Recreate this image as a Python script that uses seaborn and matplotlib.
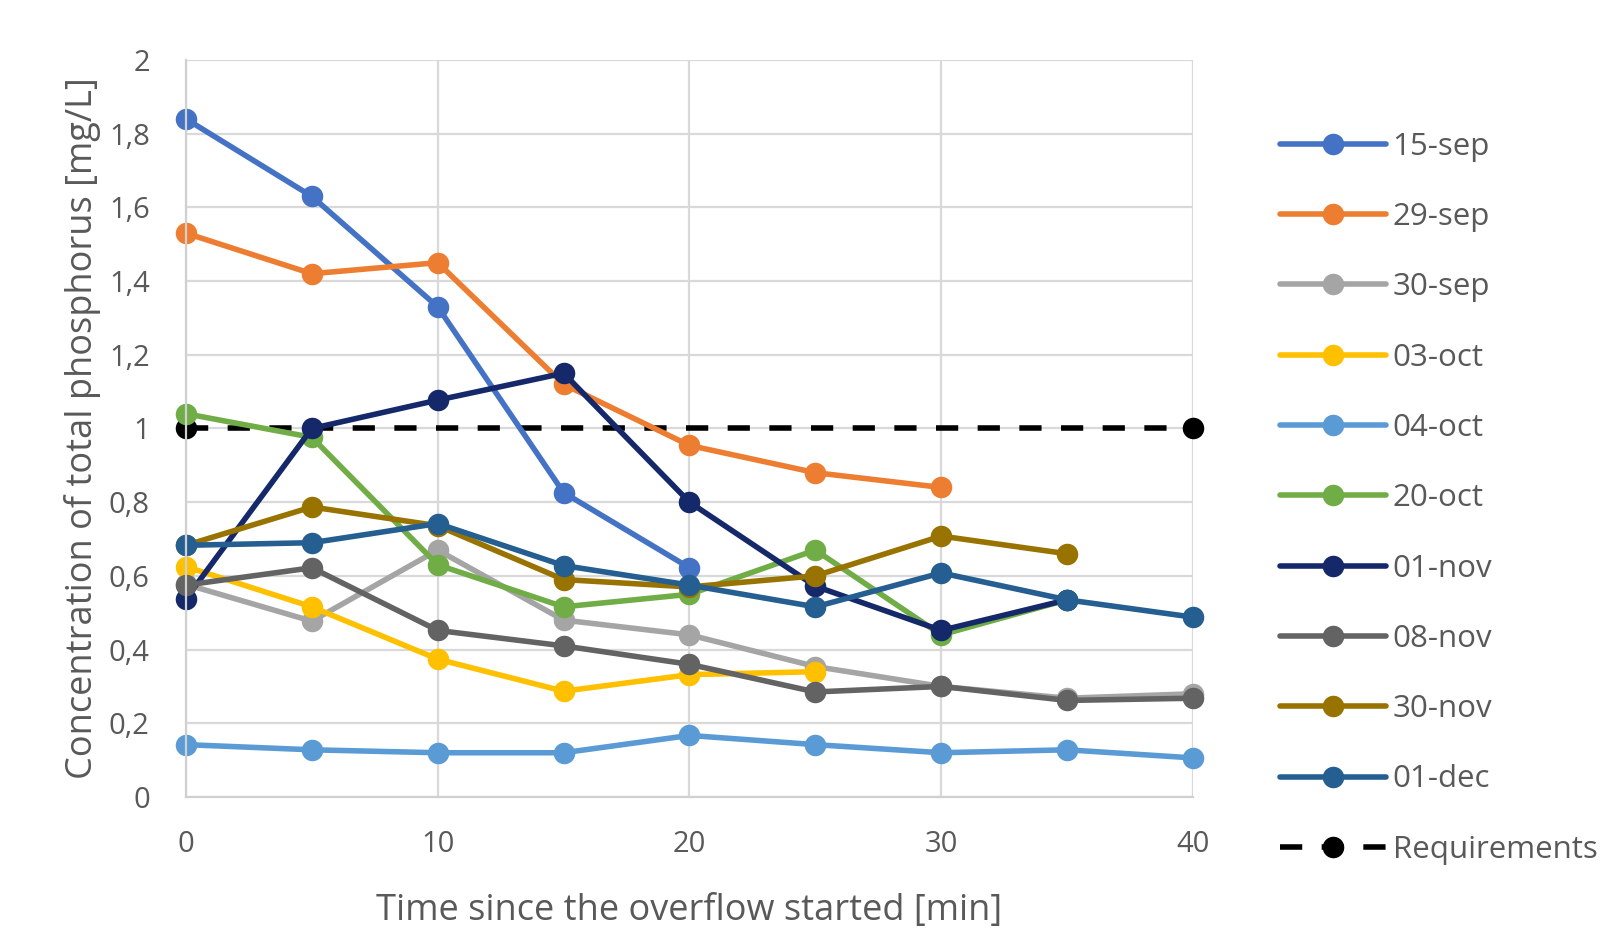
import matplotlib
matplotlib.use("Agg")
import matplotlib.pyplot as plt
import seaborn as sns
import pandas as pd
from matplotlib.ticker import FixedLocator, FixedFormatter
from matplotlib.lines import Line2D

# ---- data ----
time_min = [0, 5, 10, 15, 20, 25, 30, 35, 40]
sep15 = [1.84, 1.63, 1.33, 0.826, 0.622]
sep29 = [1.53, 1.42, 1.45, 1.12, 0.954, 0.88, 0.84]
sep30 = [0.577, 0.477, 0.67, 0.48, 0.44, 0.354, 0.30, 0.268, 0.28]
oct03 = [0.625, 0.516, 0.374, 0.287, 0.332, 0.34]
oct04 = [0.142, 0.128, 0.12, 0.12, 0.167, 0.142, 0.12, 0.128, 0.106]
oct20 = [1.04, 0.976, 0.63, 0.516, 0.55, 0.67, 0.44, 0.535]
nov01 = [0.538, 1.0, 1.077, 1.15, 0.80, 0.572, 0.452, 0.535]
nov08 = [0.575, 0.622, 0.452, 0.41, 0.36, 0.285, 0.30, 0.262, 0.268]
nov30 = [0.683, 0.787, 0.736, 0.59, 0.57, 0.60, 0.708, 0.66]
dec01 = [0.683, 0.69, 0.742, 0.628, 0.575, 0.516, 0.608, 0.535, 0.488]
req_time = [0, 40]
req_value = [1.0, 1.0]

series_names = ["15-sep", "29-sep", "30-sep", "03-oct", "04-oct",
                "20-oct", "01-nov", "08-nov", "30-nov", "01-dec"]
series_values = [sep15, sep29, sep30, oct03, oct04, oct20, nov01, nov08, nov30, dec01]
colors = ["#4472C4", "#ED7D31", "#A5A5A5", "#FFC000", "#5B9BD5",
          "#70AD47", "#14286A", "#636363", "#997300", "#255E91"]

y_ticks = [0, 0.2, 0.4, 0.6, 0.8, 1.0, 1.2, 1.4, 1.6, 1.8, 2.0]
y_tick_labels = ["0", "0,2", "0,4", "0,6", "0,8", "1", "1,2", "1,4", "1,6", "1,8", "2"]
x_ticks = [0, 10, 20, 30, 40]
x_tick_labels = ["0", "10", "20", "30", "40"]

rows = []
for name, vals in zip(series_names, series_values):
    for t, v in zip(time_min, vals):
        rows.append({"time": t, "value": v, "series": name})
df = pd.DataFrame(rows)
df_req = pd.DataFrame({"time": req_time, "value": req_value, "series": "Requirements"})

# ---- style ----
sns.set_style("white")
plt.rcParams["font.family"] = ["Open Sans", "DejaVu Sans"]

fig = plt.figure(figsize=(16.13, 9.33), dpi=100)
ax = fig.add_axes([0.1153, 0.1458, 0.7396 - 0.1153, 0.9357 - 0.1458])

lw = 4.0
ms = 15.5
dash = (4.0, 3.5)
sns.lineplot(data=df, x="time", y="value", hue="series", hue_order=series_names,
             palette=colors, marker="o", markersize=ms, markeredgewidth=0,
             linewidth=lw, ax=ax, clip_on=False, legend=False, sort=False)
sns.lineplot(data=df_req, x="time", y="value", color="black", marker="o",
             markersize=ms, markeredgewidth=0, linewidth=lw, ax=ax,
             clip_on=False, legend=False)
req_line = ax.get_lines()[-1]
req_line.set_dashes(dash)
req_line.set_zorder(1.5)

ax.set_xlim(0, 40)
ax.set_ylim(0, 2)
ax.xaxis.set_major_locator(FixedLocator(x_ticks))
ax.xaxis.set_major_formatter(FixedFormatter(x_tick_labels))
ax.yaxis.set_major_locator(FixedLocator(y_ticks))
ax.yaxis.set_major_formatter(FixedFormatter(y_tick_labels))
ax.grid(True, color="#D9D9D9", linewidth=1.6)
ax.set_axisbelow(True)
for s in ["top", "right"]:
    ax.spines[s].set_visible(False)
for s in ["left", "bottom"]:
    ax.spines[s].set_color("#D0D0D0")
    ax.spines[s].set_linewidth(1.6)
ax.tick_params(axis="both", length=0, labelsize=21, colors="#595959")
ax.tick_params(axis="y", pad=26)
ax.tick_params(axis="x", pad=24)
ax.set_xlabel("Time since the overflow started [min]", fontsize=26, color="#595959", labelpad=24)
ax.set_ylabel("Concentration of total phosphorus [mg/L]", fontsize=26, color="#595959", labelpad=6)

# ---- legend ----
handles = [Line2D([], [], color=c, linewidth=lw, marker="o", markersize=ms,
                  markeredgewidth=0) for c in colors]
handles.append(Line2D([], [], color="black", linewidth=lw, marker="o", markersize=ms,
                      markeredgewidth=0, dashes=dash))
labels = series_names + ["Requirements"]
fig.legend(handles, labels, loc="center left", bbox_to_anchor=(0.7936, 0.466),
           frameon=False, fontsize=22.5, handlelength=3.4, handletextpad=0.2,
           labelspacing=1.29, borderpad=0, borderaxespad=0, labelcolor="#595959")

fig.savefig("out.png", dpi=100)
